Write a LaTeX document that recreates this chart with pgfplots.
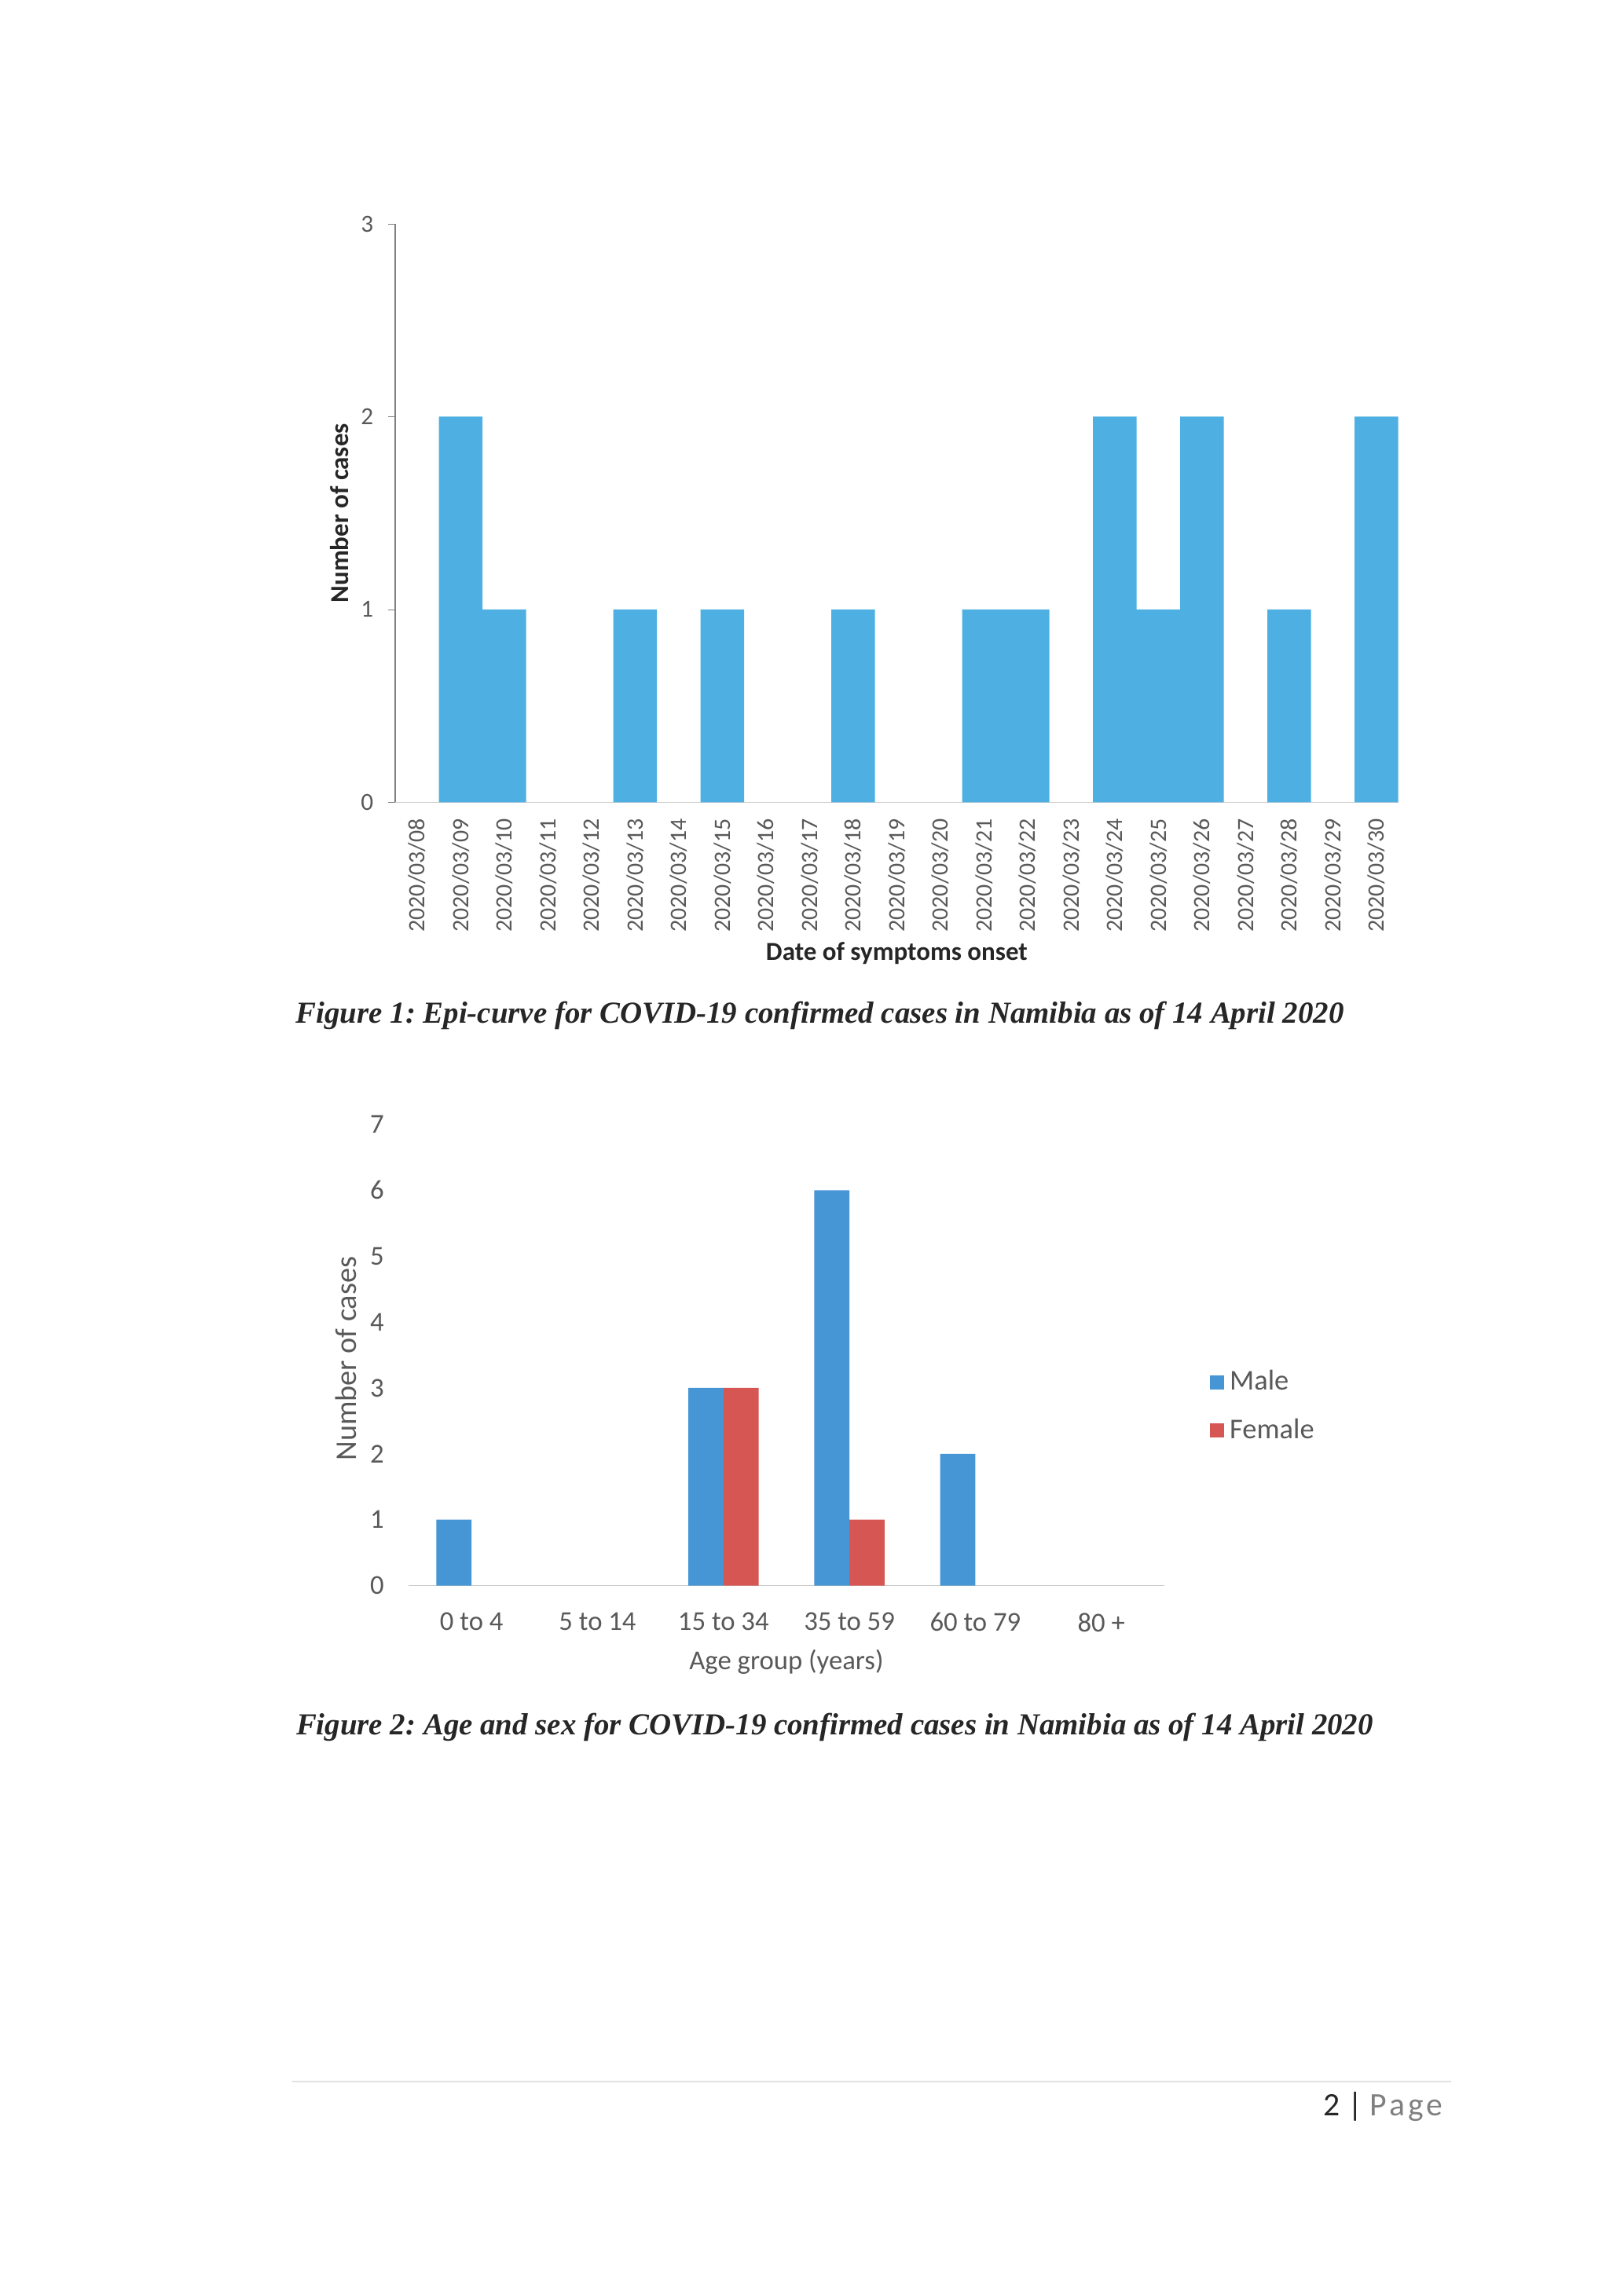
\documentclass[border=0pt]{standalone}
\usepackage{fontspec}
\setmainfont{Carlito}
\newfontfamily\timesfont{Liberation Serif}
\usepackage{pgfplots}
\pgfplotsset{compat=1.18}
\frenchspacing
\definecolor{barblue}{RGB}{78,176,226}
\definecolor{maleblue}{RGB}{70,150,214}
\definecolor{femred}{RGB}{214,86,84}
\definecolor{txtgray}{RGB}{89,89,89}
\definecolor{ltgray}{RGB}{205,205,205}
\definecolor{dark}{RGB}{38,38,38}
\begin{document}
\begin{tikzpicture}
\fill[white] (0,0) rectangle (595.3pt,841.9pt);
% ---------- Figure 1 ----------
\begin{axis}[
  at={(144.9pt,547.7pt)}, anchor=south west,
  scale only axis, width=367.7pt, height=212.1pt,
  xmin=-0.5, xmax=22.5, ymin=0, ymax=3,
  ybar, bar width=1,
  axis x line*=bottom, axis y line*=left,
  x axis line style={ltgray},
  y axis line style={gray},
  xtick={0,...,22},
  xticklabels={2020/03/08,2020/03/09,2020/03/10,2020/03/11,2020/03/12,2020/03/13,2020/03/14,2020/03/15,2020/03/16,2020/03/17,2020/03/18,2020/03/19,2020/03/20,2020/03/21,2020/03/22,2020/03/23,2020/03/24,2020/03/25,2020/03/26,2020/03/27,2020/03/28,2020/03/29,2020/03/30},
  x tick style={draw=none},
  xticklabel style={rotate=90, anchor=east, font=\fontsize{8.6}{10}\selectfont, text=txtgray},
  ytick={0,1,2,3},
  y tick style={gray},
  tick align=outside, major tick length=2.5pt,
  yticklabel style={font=\fontsize{9}{10}\selectfont, text=txtgray, xshift=-2pt},
  /pgf/number format/assume math mode=true,
  xlabel={Date of symptoms onset},
  xlabel style={at={(axis description cs:0.5,-0.261)}, anchor=center, font=\fontsize{9.5}{11}\selectfont\bfseries, text=dark},
  ylabel={Number of cases},
  ylabel style={at={(axis description cs:-0.0555,0.5)}, anchor=center, font=\fontsize{9.5}{11}\selectfont\bfseries, text=dark},
]
\addplot[fill=barblue, draw=none] coordinates {
 (1,2) (2,1) (5,1) (7,1) (10,1) (13,1) (14,1) (16,2) (17,1) (18,2) (20,1) (22,2)
};
\end{axis}
\node[font=\timesfont\bfseries\itshape\fontsize{11.2}{13}\selectfont, text=dark] at (300.6pt,469.4pt) {Figure 1: Epi-curve for COVID-19 confirmed cases in Namibia as of 14 April 2020};
% ---------- Figure 2 ----------
\begin{axis}[
  at={(149.8pt,260.5pt)}, anchor=south west,
  scale only axis, width=277pt, height=169.1pt,
  xmin=-0.5, xmax=5.5, ymin=0, ymax=7,
  ybar=0pt, bar width=12.9pt,
  axis x line*=bottom, axis y line*=left,
  x axis line style={ltgray},
  y axis line style={draw=none},
  xtick={0,...,5},
  xticklabels={0 to 4,5 to 14,15 to 34,35 to 59,60 to 79,80 +},
  major tick length=0pt,
  xticklabel style={font=\fontsize{10}{12}\selectfont, text=txtgray, yshift=-6.5pt},
  ytick={0,...,7},
  yticklabel style={font=\fontsize{10}{12}\selectfont, text=txtgray, xshift=-5.5pt},
  /pgf/number format/assume math mode=true,
  xlabel={Age group (years)},
  xlabel style={at={(axis description cs:0.5,-0.165)}, anchor=center, font=\fontsize{10}{12}\selectfont, text=txtgray},
  ylabel={Number of cases},
  ylabel style={at={(axis description cs:-0.0834,0.492)}, anchor=center, font=\fontsize{11}{13}\selectfont, text=txtgray},
  legend style={at={(1.06,0.48)}, anchor=north west, draw=none, fill=none, inner xsep=0pt, inner ysep=0pt, font=\fontsize{10.5}{12}\selectfont, text=txtgray, row sep=5pt},
  legend cell align=left,
  legend image code/.code={\fill[#1] (0pt,-2.6pt) rectangle (5.2pt,2.6pt);},
]
\addplot[fill=maleblue, draw=none] coordinates {(0,1) (2,3) (3,6) (4,2)};
\addplot[fill=femred, draw=none] coordinates {(2,3) (3,1)};
\legend{Male,Female}
\end{axis}
\node[font=\timesfont\bfseries\itshape\fontsize{11.2}{13}\selectfont, text=dark] at (306pt,208.5pt) {Figure 2: Age and sex for COVID-19 confirmed cases in Namibia as of 14 April 2020};
% ---------- footer ----------
\draw[ltgray!60, line width=0.4pt] (107pt,78.6pt) -- (532pt,78.6pt);
\node[anchor=base east, inner sep=0pt, font=\fontsize{12}{14}\selectfont] at (529pt,66pt) {\textcolor{dark}{2 |} \textcolor{gray}{P\kern1.0pt a\kern1.0pt g\kern1.0pt e}};
\end{tikzpicture}
\end{document}
